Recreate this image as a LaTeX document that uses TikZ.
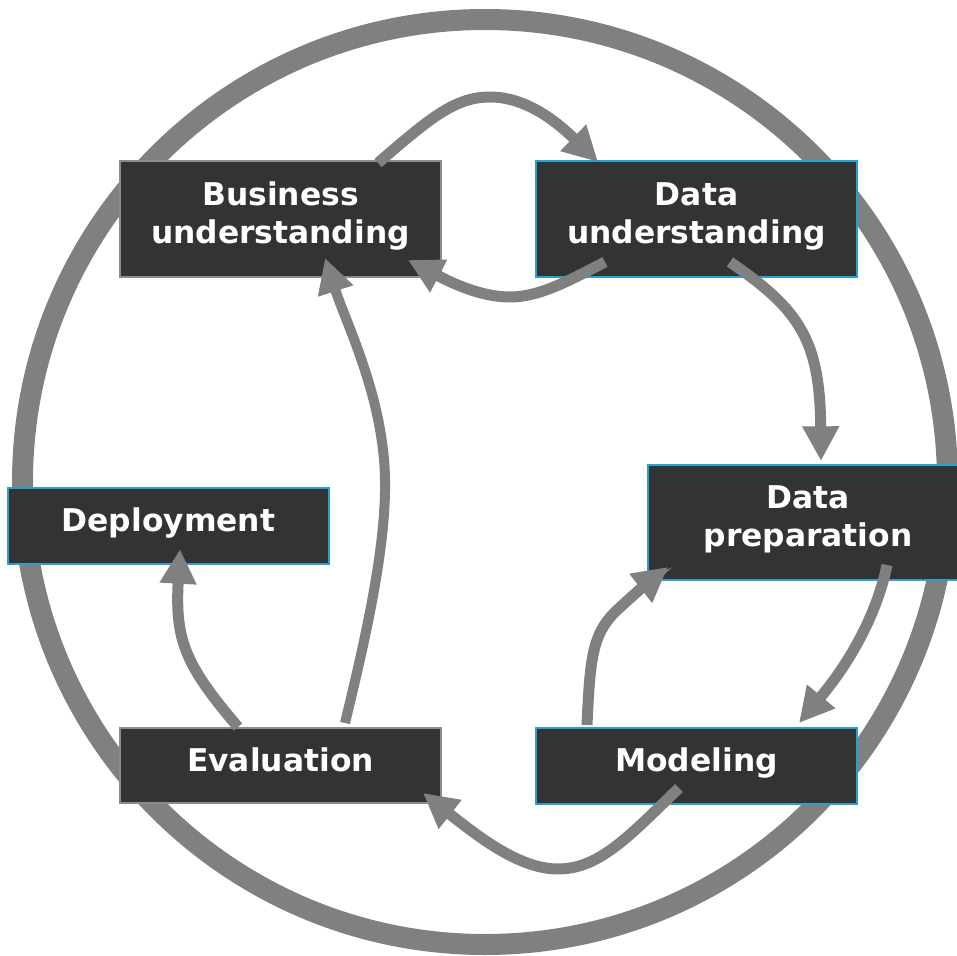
\documentclass[tikz,border=0pt]{standalone}
\usepackage{fontspec}
\setmainfont{DejaVu Sans}
\usetikzlibrary{arrows.meta}
\definecolor{boxfill}{HTML}{323433}
\definecolor{flowgray}{HTML}{808080}
\definecolor{edgeblue}{HTML}{2A9FD6}
\definecolor{edgegray}{HTML}{8C8C8C}
\tikzset{
 phase/.style={draw, line width=1.5pt, fill=boxfill, text=white,
   font=\bfseries\fontsize{23.5}{28.5}\selectfont, align=center,
   minimum width=240.75pt, inner sep=0pt, text depth=9.6pt},
 blueedge/.style={draw=edgeblue},
 grayedge/.style={draw=edgegray},
 flow/.style={draw=flowgray, line width=8.25pt, -{Triangle[length=26pt,width=26pt]}},
 ring/.style={draw=flowgray, line width=15.75pt}
}
\begin{document}
\begin{tikzpicture}[x=0.75pt,y=-0.75pt]
\clip (0,0) rectangle (957,956);
\draw[ring] (485,482) circle (462.5);
\node[phase, grayedge, minimum height=87pt] (bu) at (280.5,219) {Business\\understanding};
\node[phase, blueedge, minimum height=87pt] (du) at (696.5,219) {Data\\understanding};
\node[phase, blueedge, minimum height=86.25pt] (dp) at (808,522.5) {Data\\preparation};
\node[phase, blueedge, minimum height=57pt] (dep) at (168.5,526) {Deployment};
\node[phase, grayedge, minimum height=56.25pt] (ev) at (280.5,765.5) {Evaluation};
\node[phase, blueedge, minimum height=57pt] (mo) at (696.5,766) {Modeling};
% connector end points
\coordinate (bu1) at (378,163);
\coordinate (du1) at (598,162);
\coordinate (du2) at (605,262);
\coordinate (bu2) at (408,260);
\coordinate (du3) at (730,262);
\coordinate (dp1) at (821,461);
\coordinate (dp2) at (887,565);
\coordinate (mo1) at (799,723);
\coordinate (mo2) at (587,725);
\coordinate (dp3) at (668,567);
\coordinate (mo3) at (679,788);
\coordinate (ev1) at (423,793);
\coordinate (ev2) at (345,723);
\coordinate (bu3) at (325,258);
\coordinate (ev3) at (238,727);
\coordinate (dep1) at (180,549);
% connectors
\draw[flow] (bu1) .. controls (430,118) and (455,97) .. (490,97) .. controls (525,97) and (555,120) .. (du1);
\draw[flow] (du2) .. controls (570,280) and (540,297) .. (510,297) .. controls (480,297) and (450,282) .. (bu2);
\draw[flow] (du3) .. controls (800,310) and (820,340) .. (dp1);
\draw[flow] (dp2) .. controls (880,600) and (860,650) .. (mo1);
\draw[flow] (mo2) .. controls (590,660) and (592,635) .. (615,612) .. controls (630,598) and (645,585) .. (dp3);
\draw[flow] (mo3) .. controls (630,835) and (600,869) .. (558,869) .. controls (520,869) and (480,838) .. (ev1);
\draw[flow, line width=7.5pt] (ev2) .. controls (370,620) and (392,520) .. (383,450) .. controls (375,380) and (345,320) .. (bu3);
\draw[flow] (ev3) .. controls (185,665) and (175,640) .. (dep1);
\end{tikzpicture}
\end{document}
